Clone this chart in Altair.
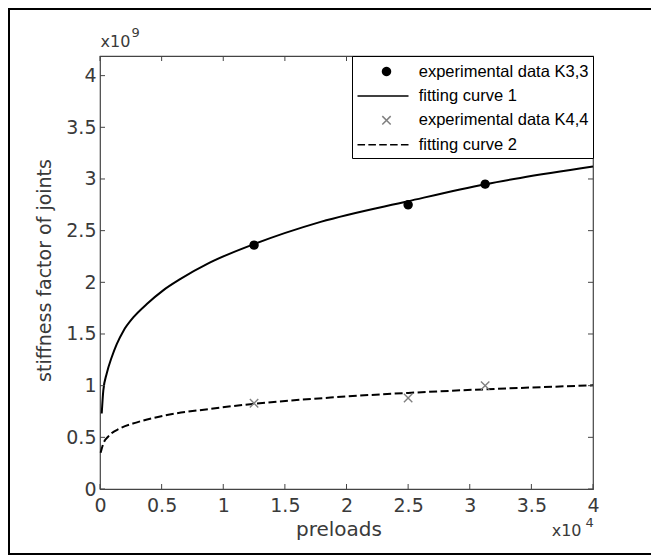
import math
import altair as alt
import pandas as pd

# ---------------- data (x in units of 1e4, y in units of 1e9) ----------------
exp_x = [1.25, 2.5, 3.125]
k33_y = [2.36, 2.75, 2.95]
k44_y = [0.83, 0.88, 1.00]

fit1_x = [0.014, 0.027, 0.054, 0.095, 0.135, 0.19, 0.27, 0.38, 0.51, 0.65, 0.89,
          1.25, 1.79, 2.5, 3.13, 3.41, 4.0]
fit1_y = [0.73, 0.955, 1.115, 1.275, 1.40, 1.53, 1.66, 1.79, 1.92, 2.03, 2.19,
          2.37, 2.585, 2.785, 2.95, 3.01, 3.12]
fit2_x = [0.005, 0.027, 0.068, 0.16, 0.30, 0.51, 0.89, 1.24, 1.87, 2.5, 3.13, 3.41, 4.0]
fit2_y = [0.35, 0.44, 0.51, 0.585, 0.645, 0.708, 0.775, 0.823, 0.885, 0.93, 0.965, 0.978, 1.003]

series = ["experimental data K3,3", "fitting curve 1",
          "experimental data K4,4", "fitting curve 2"]

x_ticks = [0, 0.5, 1, 1.5, 2, 2.5, 3, 3.5, 4]
y_ticks = [0, 0.5, 1, 1.5, 2, 2.5, 3, 3.5, 4]
x_domain = [0, 4]
y_domain = [0, 4.19]
x_exponent = ["x10", "4"]
y_exponent = ["x10", "9"]
x_title = "preloads"
y_title = "stiffness factor of joints"

# ---------------- styles ----------------
W, H = 493, 433
AX = "#444444"
TXT = "#3a3a3a"
FONT = "DejaVu Sans"


def polygon(cx, r, n=20):
    pts = [(cx + r * math.cos(2 * math.pi * i / n), r * math.sin(2 * math.pi * i / n)) for i in range(n)]
    return "M" + "L".join(f"{x:.3f},{y:.3f}" for x, y in pts) + "Z"


def dashes(x0, x1, n=5, ratio=0.4375):
    d = (x1 - x0) / (n + (n - 1) * ratio)
    g = d * ratio
    out, x = [], x0
    for _ in range(n):
        out.append(f"M{x:.3f},0H{x + d:.3f}")
        x += d + g
    return "".join(out)


circle_path = polygon(0, 0.4)
cross_path = "M-0.42,-0.42L0.42,0.42M-0.42,0.42L0.42,-0.42"
line_path = "M-2.9,0H2.2"
dash_path = dashes(-2.9, 2.2)

pts = pd.DataFrame({
    "x": exp_x + exp_x,
    "y": k33_y + k44_y,
    "series": [series[0]] * len(exp_x) + [series[2]] * len(exp_x),
})
fit1 = pd.DataFrame({"x": fit1_x, "y": fit1_y})
fit2 = pd.DataFrame({"x": fit2_x, "y": fit2_y})
xt = pd.DataFrame({"x": x_ticks})
yt = pd.DataFrame({"y": y_ticks})

xscale = alt.Scale(domain=x_domain, nice=False, zero=False)
yscale = alt.Scale(domain=y_domain, nice=False, zero=False)

x_axis = alt.Axis(values=x_ticks, format="~g", labelFont=FONT, labelFontSize=19,
                  labelColor=TXT, labelPadding=7, ticks=False, tickSize=0, domain=False,
                  grid=False, labelFlush=False, labelOverlap=False,
                  title=x_title, titleFont=FONT, titleFontSize=20, titleFontWeight="normal",
                  titleColor=TXT, titleX=238.5, titleY=46, titleBaseline="alphabetic",
                  titleAlign="center")
y_axis = alt.Axis(values=y_ticks, format="~g", labelFont=FONT, labelFontSize=19,
                  labelColor=TXT, labelPadding=4, ticks=False, tickSize=0, domain=False,
                  grid=False, labelFlush=False, labelOverlap=False,
                  title=y_title, titleFont=FONT, titleFontSize=19, titleFontWeight="normal",
                  titleColor=TXT, titleX=-50, titleY=214, titleBaseline="alphabetic",
                  titleAlign="center", titleAngle=270)


def X(field="x"):
    return alt.X(f"{field}:Q", scale=xscale, axis=x_axis, title=x_title)


def Y(field="y"):
    return alt.Y(f"{field}:Q", scale=yscale, axis=y_axis, title=y_title)


def legend():
    return alt.Legend(
        title=None, orient="top-right", offset=0, padding=4.5,
        labelFont="Liberation Sans", labelFontSize=16.5, labelColor="black",
        labelLimit=400, labelOffset=21.2, symbolSize=400, symbolOffset=19,
        symbolStrokeWidth=1.5, symbolOpacity=1,
        rowPadding=4.4, strokeColor="black", fillColor="white",
    )


curve1 = alt.Chart(fit1).mark_line(color="black", strokeWidth=2, interpolate="monotone").encode(
    x=X(), y=Y())
curve2 = alt.Chart(fit2).mark_line(color="black", strokeWidth=2, strokeDash=[8, 3.5],
                                   interpolate="monotone").encode(x=X(), y=Y())

points = alt.Chart(pts).mark_point(size=400, opacity=1, strokeWidth=1.4).encode(
    x=X(), y=Y(),
    shape=alt.Shape("series:N", scale=alt.Scale(domain=series,
                    range=[circle_path, line_path, cross_path, dash_path]), legend=legend()),
    fill=alt.Fill("series:N", scale=alt.Scale(domain=series,
                  range=["black", "transparent", "transparent", "transparent"]), legend=legend()),
    stroke=alt.Stroke("series:N", scale=alt.Scale(domain=series,
                      range=["black", "black", "#808080", "black"]), legend=legend()),
)

tick_rule = dict(color=AX, strokeWidth=1)
tb = alt.Chart(xt).mark_rule(**tick_rule).encode(x=X(), y=alt.value(H), y2=alt.value(H - 5))
tt = alt.Chart(xt).mark_rule(**tick_rule).encode(x=X(), y=alt.value(0), y2=alt.value(5))
tl = alt.Chart(yt).mark_rule(**tick_rule).encode(y=Y(), x=alt.value(0), x2=alt.value(5))
tr = alt.Chart(yt).mark_rule(**tick_rule).encode(y=Y(), x=alt.value(W), x2=alt.value(W - 5))


def label(txt, x, y, size):
    return alt.Chart(pd.DataFrame({"t": [txt]})).mark_text(
        align="left", baseline="alphabetic", font=FONT, fontSize=size, color=TXT
    ).encode(text="t:N", x=alt.value(x), y=alt.value(y))


ex_y1 = label(y_exponent[0], 0.5, -9, 16)
ex_y2 = label(y_exponent[1], 31.5, -19, 13)
ex_x1 = label(x_exponent[0], 451.7, 480, 16)
ex_x2 = label(x_exponent[1], 485.5, 471, 13)

# outer figure frame (left, top and bottom edges) drawn as thin filled bands
one = pd.DataFrame({"f": [0]})


def band(x0, x1, y0, y1):
    return alt.Chart(one).mark_rect(color="black", opacity=1).encode(
        x=alt.value(x0), x2=alt.value(x1), y=alt.value(y0), y2=alt.value(y1))


f_left = band(-92, -90, -48, 499)
f_top = band(-92, 551, -48, -46)
f_bottom = band(-92, 551, 497, 499)

chart = alt.layer(
    f_left, f_top, f_bottom, curve1, curve2, points, tb, tt, tl, tr,
    ex_y1, ex_y2, ex_x1, ex_x2
).properties(width=W, height=H, padding=0).configure_view(
    stroke=AX, strokeWidth=1.2
)

chart.save("out.html", embed_options={"renderer": "svg", "actions": False})
